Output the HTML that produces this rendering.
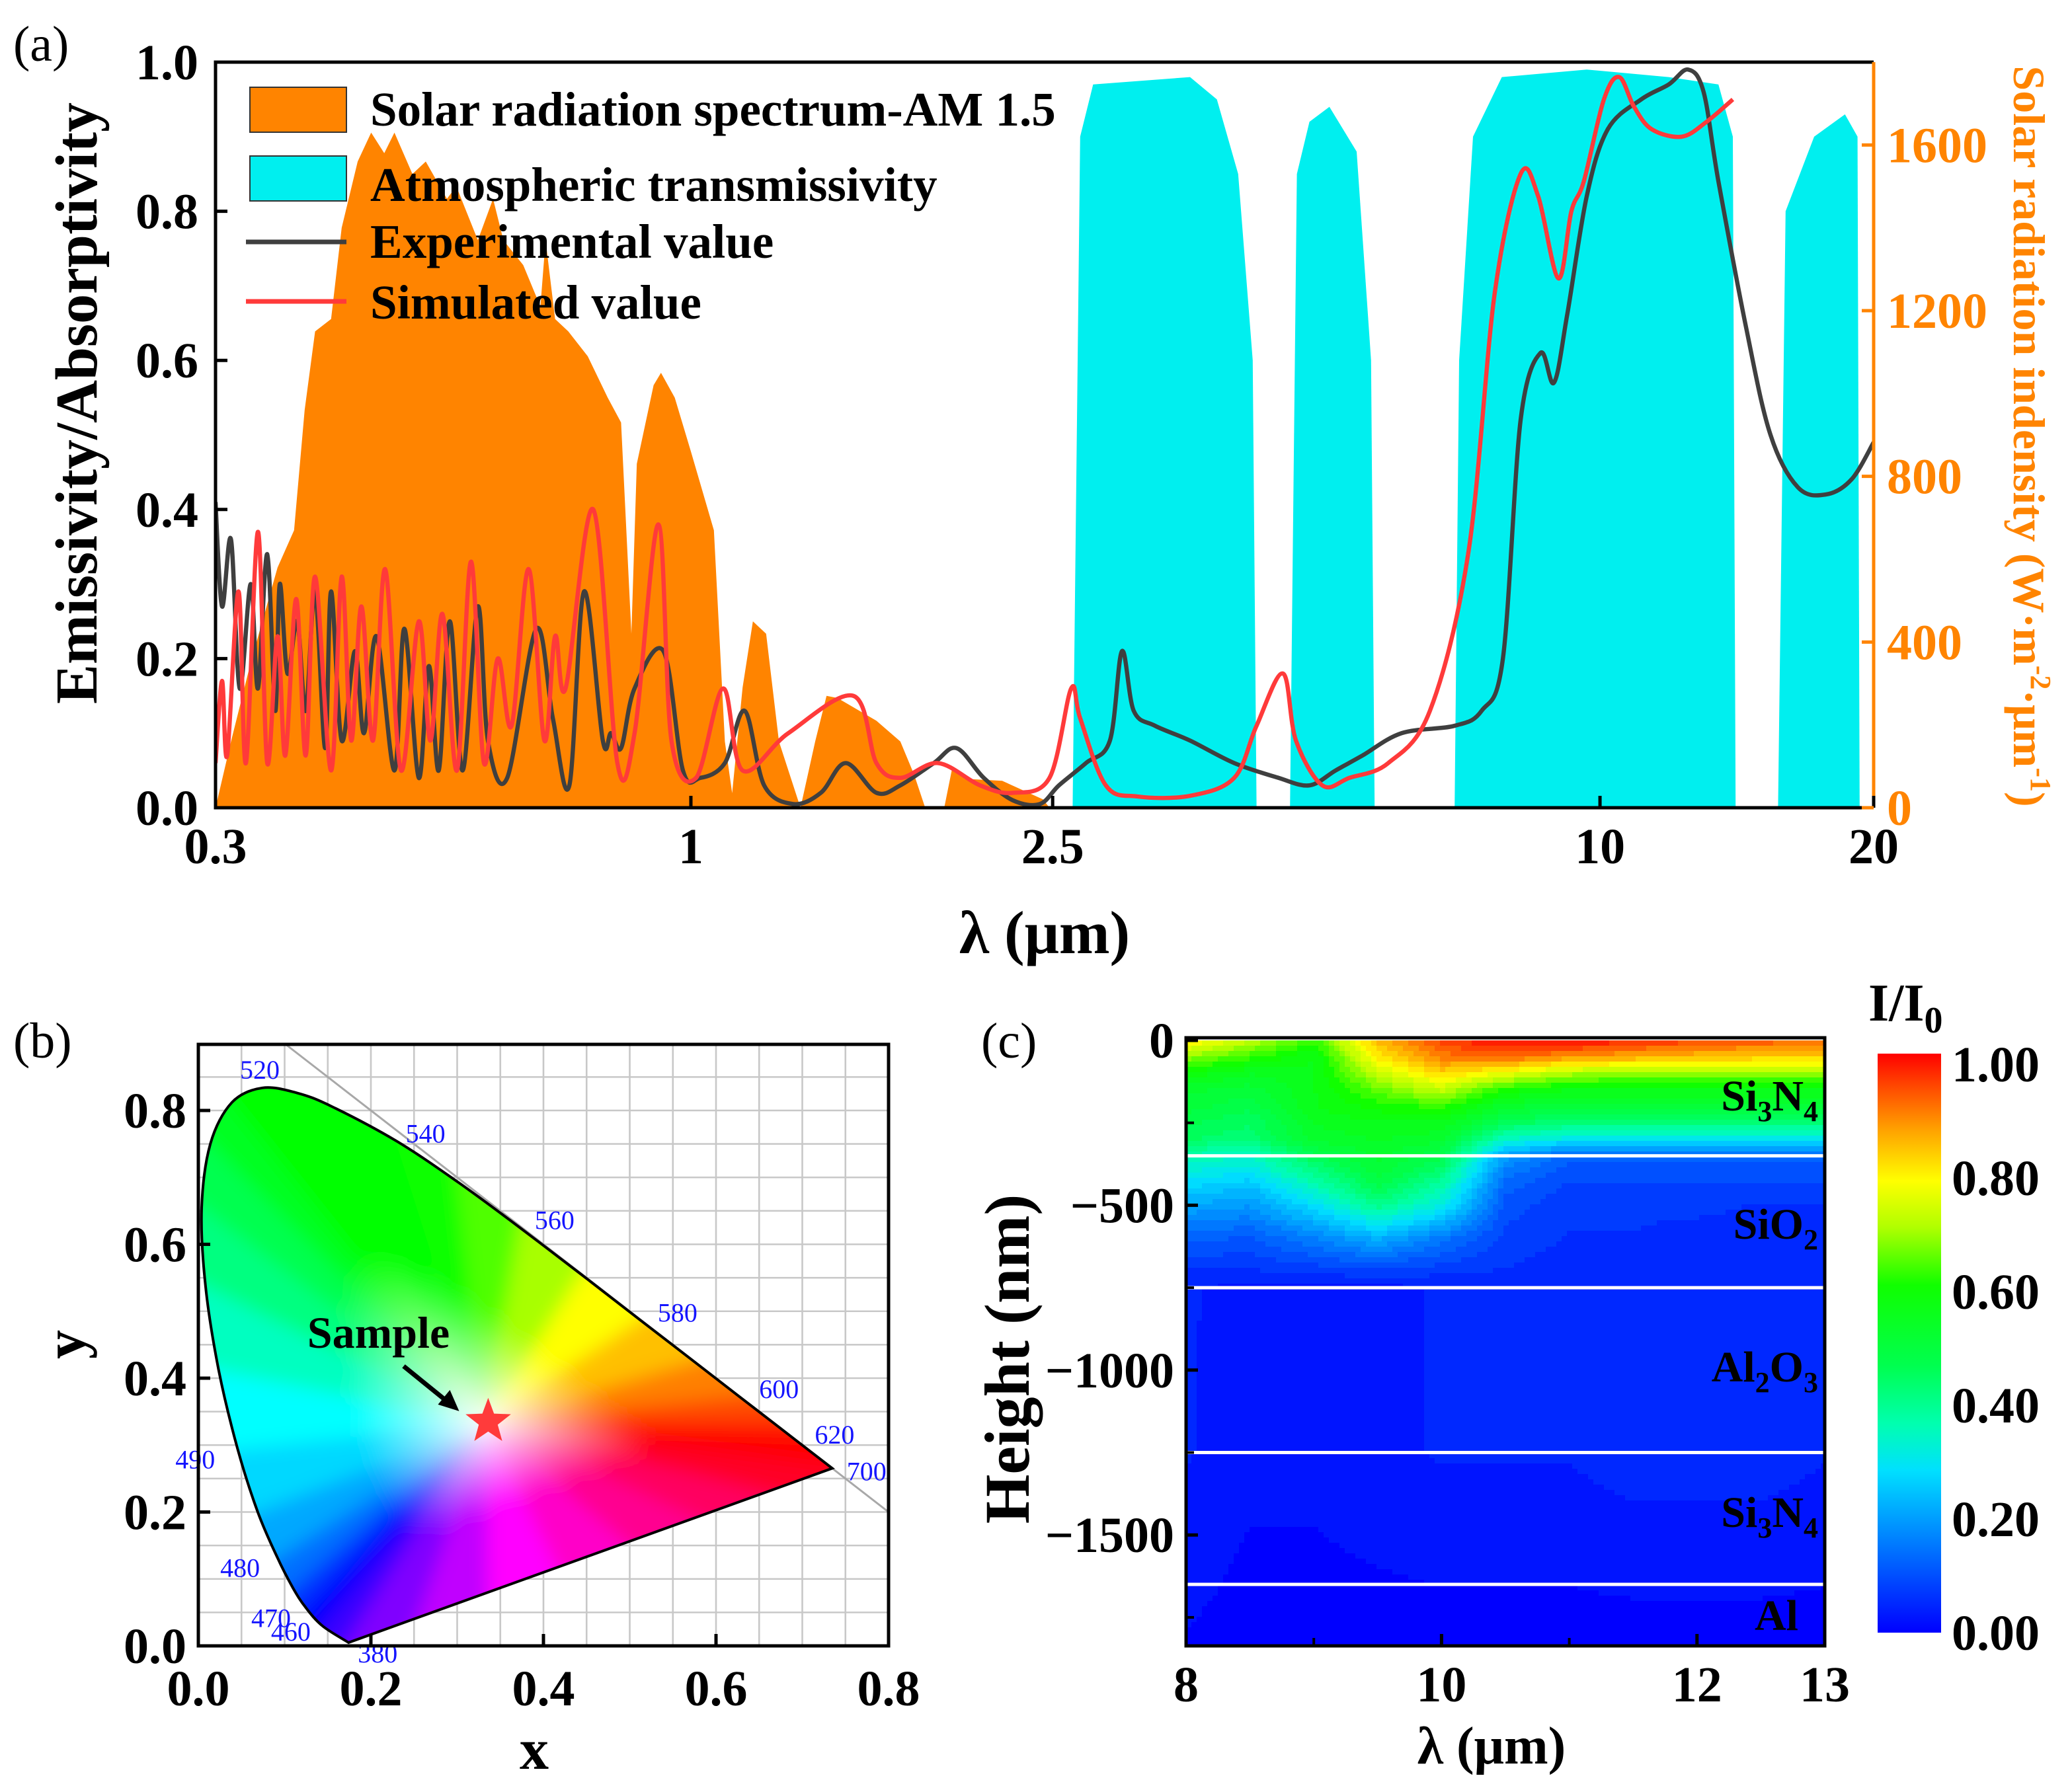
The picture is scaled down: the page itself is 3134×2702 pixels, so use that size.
<!DOCTYPE html>
<html><head><meta charset="utf-8">
<style>
html,body{margin:0;padding:0;background:#fff;}
svg{display:block;}
text{font-family:"Liberation Serif",serif;}
</style></head>
<body>
<svg id="fig" xmlns="http://www.w3.org/2000/svg" width="3134" height="2702" viewBox="0 0 1567 1351">
<defs>
<clipPath id="clipA"><rect x="163" y="47" width="1254" height="564"/></clipPath>
<clipPath id="clipC"><rect x="897" y="786" width="483" height="459"/></clipPath>
<clipPath id="clipLocus"><path id="locusClipPath" d=""/></clipPath>
<filter id="blurSect" x="-20%" y="-20%" width="140%" height="140%"><feGaussianBlur stdDeviation="7"/></filter>
<linearGradient id="cbGrad" x1="0" y1="1" x2="0" y2="0">
<stop offset="0" stop-color="#0000ff"/><stop offset="0.08" stop-color="#0040ff"/><stop offset="0.18" stop-color="#0090ff"/>
<stop offset="0.28" stop-color="#00e0ff"/><stop offset="0.36" stop-color="#00ffb0"/><stop offset="0.46" stop-color="#00ff50"/>
<stop offset="0.6" stop-color="#10ff00"/><stop offset="0.7" stop-color="#b0ff00"/><stop offset="0.78" stop-color="#ffff00"/>
<stop offset="0.87" stop-color="#ffa000"/><stop offset="0.95" stop-color="#ff4000"/><stop offset="1" stop-color="#ff0000"/>
</linearGradient>
</defs>

<text x="10" y="46" font-size="38">(a)</text>
<text x="10" y="800" font-size="38">(b)</text>
<text x="742" y="800" font-size="38">(c)</text>

<g id="panelA">
  <g id="aMarks" clip-path="url(#clipA)"></g>
  <g id="aAxes"></g>
</g>

<g>
<text x="790" y="721" font-size="46" font-weight="bold" text-anchor="middle">λ (μm)</text>
<text transform="translate(73,305) rotate(-90)" font-size="45" font-weight="bold" text-anchor="middle">Emissivity/Absorptivity</text>
<text transform="translate(1523,330) rotate(90)" font-size="34" font-weight="bold" text-anchor="middle" fill="#ff8400">Solar radiation indensity (W·m<tspan font-size="22" dy="-13">-2</tspan><tspan dy="13">·μm</tspan><tspan font-size="22" dy="-13">-1</tspan><tspan dy="13">)</tspan></text>
</g>
<g>
<rect x="189" y="66" width="73" height="34" fill="#ff8400" stroke="#333" stroke-width="1"/>
<text x="280" y="95" font-size="36.5" font-weight="bold">Solar radiation spectrum-AM 1.5</text>
<rect x="189" y="118" width="73" height="34" fill="#00efef" stroke="#333" stroke-width="1"/>
<text x="280" y="152" font-size="36.5" font-weight="bold">Atmospheric transmissivity</text>
<line x1="186" y1="183" x2="262" y2="183" stroke="#3f3f3f" stroke-width="3.5"/>
<text x="280" y="195" font-size="36.5" font-weight="bold">Experimental value</text>
<line x1="186" y1="228" x2="262" y2="228" stroke="#ff3a3a" stroke-width="3.5"/>
<text x="280" y="241" font-size="36.5" font-weight="bold">Simulated value</text>
</g>

<g id="panelB"></g>
<g id="panelC"></g>

<g>
<text x="1128" y="1334" font-size="40" font-weight="bold" text-anchor="middle">λ (μm)</text>
<text transform="translate(778,1028) rotate(-90)" font-size="48" font-weight="bold" text-anchor="middle">Height (nm)</text>
<text x="1413" y="772" font-size="40" font-weight="bold">I/I<tspan font-size="28" dy="9">0</tspan></text>
<text x="1375" y="840" font-size="33" font-weight="bold" text-anchor="end">Si<tspan font-size="22" dy="8">3</tspan><tspan dy="-8">N</tspan><tspan font-size="22" dy="8">4</tspan></text>
<text x="1375" y="937" font-size="33" font-weight="bold" text-anchor="end">SiO<tspan font-size="22" dy="8">2</tspan></text>
<text x="1375" y="1045" font-size="33" font-weight="bold" text-anchor="end">Al<tspan font-size="22" dy="8">2</tspan><tspan dy="-8">O</tspan><tspan font-size="22" dy="8">3</tspan></text>
<text x="1375" y="1155" font-size="33" font-weight="bold" text-anchor="end">Si<tspan font-size="22" dy="8">3</tspan><tspan dy="-8">N</tspan><tspan font-size="22" dy="8">4</tspan></text>
<text x="1360" y="1233" font-size="33" font-weight="bold" text-anchor="end">Al</text>
</g>
</svg>

<script>
// ---------- Panel (a) data ----------
const solarLam = [0.300,0.312,0.328,0.351,0.366,0.376,0.386,0.402,0.413,0.430,0.445,0.460,0.472,0.494,0.511,0.539,0.552,0.583,0.606,0.622,0.654,0.683,0.692,0.709,0.733,0.770,0.810,0.838,0.860,0.872,0.910,0.927,0.960,1.000,1.060,1.090,1.110,1.140,1.170,1.210,1.250,1.320,1.370,1.410,1.450,1.600,1.700,1.760,1.810,1.900,1.940,2.000,2.200,2.440,2.480];
const solarVal = [0,160,350,580,670,960,1150,1180,1400,1560,1630,1580,1630,1530,1560,1470,1500,1370,1470,1370,1310,1210,1370,1180,1150,1090,990,930,420,830,1020,1050,990,860,670,160,35,290,450,420,160,0,160,270,265,210,160,80,0,0,100,70,65,20,0];

const atmBand1Lam = [2.63,2.68,2.77,3.54,3.79,4.00,4.15,4.19];
const atmBand1Val = [0,0.9,0.97,0.98,0.95,0.85,0.6,0];
const atmBand2Lam = [4.56,4.64,4.79,5.04,5.40,5.60,5.65];
const atmBand2Val = [0,0.85,0.92,0.94,0.88,0.6,0];
const atmBand3Lam = [6.92,7.00,7.25,7.80,9.67,11.9,13.5,14.0,14.1];
const atmBand3Val = [0,0.6,0.9,0.98,0.99,0.98,0.97,0.9,0];
const atmBand4Lam = [15.7,16.0,17.2,18.6,19.2,19.3];
const atmBand4Val = [0,0.8,0.9,0.93,0.9,0];

const expLam = [0.300,0.305,0.312,0.319,0.328,0.334,0.342,0.349,0.353,0.360,0.369,0.377,0.386,0.396,0.402,0.413,0.427,0.437,0.451,0.472,0.484,0.502,0.515,0.528,0.543,0.561,0.583,0.598,0.628,0.676,0.705,0.735,0.763,0.800,0.817,0.838,0.867,0.933,0.980,1.024,1.090,1.146,1.204,1.296,1.390,1.480,1.600,1.700,1.850,1.960,2.100,2.260,2.420,2.540,2.720,2.890,2.980,3.070,3.240,3.540,3.960,4.430,4.790,5.120,5.480,6.050,6.920,7.410,7.820,8.180,8.600,8.900,9.200,9.670,10.2,11.1,11.9,12.5,13.0,13.5,14.5,15.4,16.5,17.7,18.9,20.0];
const expVal = [0.41,0.27,0.36,0.16,0.30,0.16,0.34,0.13,0.30,0.18,0.25,0.13,0.29,0.08,0.29,0.09,0.21,0.10,0.23,0.05,0.24,0.04,0.19,0.05,0.25,0.05,0.27,0.09,0.04,0.24,0.12,0.03,0.29,0.09,0.10,0.08,0.16,0.21,0.05,0.04,0.06,0.13,0.03,0.005,0.02,0.06,0.02,0.03,0.06,0.08,0.04,0.01,0.005,0.03,0.06,0.09,0.21,0.13,0.11,0.09,0.06,0.04,0.03,0.05,0.07,0.10,0.11,0.13,0.20,0.52,0.61,0.57,0.66,0.82,0.91,0.95,0.97,0.99,0.96,0.84,0.64,0.50,0.43,0.42,0.44,0.49];

const simLam = [0.300,0.305,0.309,0.318,0.324,0.334,0.342,0.351,0.358,0.368,0.377,0.386,0.402,0.413,0.423,0.434,0.447,0.461,0.480,0.502,0.517,0.533,0.553,0.573,0.592,0.613,0.635,0.663,0.690,0.709,0.728,0.781,0.830,0.867,0.921,0.952,1.013,1.085,1.140,1.280,1.510,1.600,1.700,1.870,2.080,2.260,2.480,2.620,2.680,2.860,3.100,3.540,3.960,4.190,4.480,4.630,4.950,5.300,5.850,6.500,7.160,7.660,8.180,8.550,9.000,9.300,9.600,10.1,10.5,10.9,11.4,12.3,13.1,14.0];
const simVal = [0.06,0.17,0.07,0.29,0.06,0.37,0.06,0.23,0.07,0.28,0.07,0.31,0.05,0.31,0.09,0.27,0.09,0.32,0.05,0.25,0.09,0.26,0.05,0.33,0.06,0.20,0.11,0.32,0.09,0.23,0.16,0.40,0.06,0.10,0.38,0.09,0.04,0.16,0.05,0.10,0.15,0.06,0.04,0.06,0.03,0.02,0.04,0.16,0.12,0.03,0.015,0.016,0.04,0.11,0.18,0.09,0.03,0.04,0.06,0.13,0.34,0.69,0.85,0.82,0.71,0.80,0.84,0.95,0.98,0.94,0.91,0.90,0.92,0.95];

const aXTicks = [0.3,1,2.5,10,20];
const aXTickLabels = ["0.3","1","2.5","10","20"];
const aYTicks = [0,0.2,0.4,0.6,0.8,1.0];
const aYTickLabels = ["0.0","0.2","0.4","0.6","0.8","1.0"];
const aRTicks = [0,400,800,1200,1600];
const aRTickLabels = ["0","400","800","1200","1600"];

// ---------- Panel (b) data ----------
const locusNm = [380,460,470,475,480,485,490,495,500,505,510,515,520,525,530,540,550,560,570,580,590,600,610,620,700];
const locusX = [0.1741,0.1440,0.1241,0.1096,0.0913,0.0687,0.0454,0.0235,0.0082,0.0039,0.0139,0.0389,0.0743,0.1142,0.1547,0.2296,0.3016,0.3731,0.4441,0.5125,0.5752,0.6270,0.6658,0.6915,0.7347];
const locusY = [0.0050,0.0297,0.0578,0.0868,0.1327,0.2007,0.2950,0.4127,0.5384,0.6548,0.7502,0.8120,0.8338,0.8262,0.8059,0.7543,0.6923,0.6245,0.5547,0.4866,0.4242,0.3725,0.3340,0.3083,0.2653];
const locusLabelNm = [520,540,560,580,600,620,700,490,480,470,460,380];
const sampleX = [0.336];
const sampleY = [0.335];
const bTicks = [0,0.2,0.4,0.6,0.8];
const bTickLabels = ["0.0","0.2","0.4","0.6","0.8"];

// ---------- Panel (c) data ----------
const cLam = [8,8.5,9,9.5,10,10.5,11,11.5,12,12.5,13];
const cDepth = [0,-50,-100,-150,-200,-250,-300,-350,-400,-450,-500,-600,-700,-750,-1250,-1840];
const cIntensity = [
 [0.80,0.72,0.62,0.85,0.95,1.00,1.00,0.97,0.95,0.93,0.92],
 [0.68,0.62,0.56,0.80,0.90,0.92,0.88,0.86,0.84,0.83,0.83],
 [0.58,0.54,0.56,0.72,0.82,0.76,0.70,0.68,0.68,0.68,0.68],
 [0.52,0.50,0.56,0.65,0.72,0.60,0.56,0.56,0.56,0.56,0.56],
 [0.50,0.47,0.56,0.60,0.62,0.52,0.50,0.50,0.50,0.50,0.50],
 [0.47,0.44,0.54,0.56,0.56,0.45,0.42,0.42,0.42,0.42,0.42],
 [0.44,0.42,0.52,0.54,0.52,0.34,0.30,0.30,0.30,0.30,0.30],
 [0.36,0.34,0.46,0.52,0.47,0.20,0.12,0.12,0.12,0.12,0.12],
 [0.31,0.29,0.40,0.50,0.42,0.15,0.10,0.10,0.10,0.10,0.10],
 [0.26,0.23,0.34,0.46,0.36,0.12,0.08,0.08,0.08,0.08,0.08],
 [0.21,0.19,0.28,0.40,0.31,0.10,0.07,0.07,0.07,0.06,0.06],
 [0.12,0.11,0.16,0.22,0.15,0.08,0.06,0.06,0.05,0.05,0.05],
 [0.06,0.06,0.07,0.08,0.07,0.06,0.05,0.05,0.05,0.04,0.04],
 [0.04,0.03,0.03,0.03,0.04,0.05,0.05,0.05,0.05,0.05,0.05],
 [0.04,0.02,0.02,0.03,0.04,0.04,0.04,0.05,0.05,0.05,0.04],
 [0.01,0.00,0.00,0.00,0.00,0.00,0.00,0.00,0.00,0.00,0.00]
];
const layerBounds = [-350,-750,-1250,-1650];
const cXTicks = [8,10,12,13];
const cYTicks = [0,-500,-1000,-1500];
const cYTickLabels = ["0","\u2212500","\u22121000","\u22121500"];
const cbTicks = [1.0,0.8,0.6,0.4,0.2,0.0];
const cbTickLabels = ["1.00","0.80","0.60","0.40","0.20","0.00"];

const NS = "http://www.w3.org/2000/svg";
const TICKFONT = 38;
function mk(parent, tag, attrs, txt){
  const e = document.createElementNS(NS, tag);
  for (const k in attrs) e.setAttribute(k, attrs[k]);
  if (txt !== undefined) e.textContent = txt;
  parent.appendChild(e);
  return e;
}
function smoothPath(pts){
  let d = 'M'+pts[0][0].toFixed(1)+' '+pts[0][1].toFixed(1);
  for (let i=0;i<pts.length-1;i++){
    const p0=pts[Math.max(0,i-1)], p1=pts[i], p2=pts[i+1], p3=pts[Math.min(pts.length-1,i+2)];
    const c1x=p1[0]+(p2[0]-p0[0])/6, c1y=p1[1]+(p2[1]-p0[1])/6;
    const c2x=p2[0]-(p3[0]-p1[0])/6, c2y=p2[1]-(p3[1]-p1[1])/6;
    d += ' C'+c1x.toFixed(1)+' '+c1y.toFixed(1)+' '+c2x.toFixed(1)+' '+c2y.toFixed(1)+' '+p2[0].toFixed(1)+' '+p2[1].toFixed(1);
  }
  return d;
}

// ================= Panel A =================
const AX0=163, AX1=1417, AY0=47, AY1=611;
const LMIN=Math.log10(0.3), LMAX=Math.log10(20);
function xA(l){ return AX0 + (Math.log10(l)-LMIN)/(LMAX-LMIN)*(AX1-AX0); }
function yA(v){ return AY1 - v*(AY1-AY0); }
function yR(w){ return AY1 - w/1800*(AY1-AY0); }

const aMarks = document.getElementById('aMarks');
const aAxes = document.getElementById('aAxes');

{
  let pts = solarLam.map((l,i)=>xA(l).toFixed(1)+','+yR(solarVal[i]).toFixed(1));
  pts.push(xA(solarLam[solarLam.length-1]).toFixed(1)+','+AY1, xA(solarLam[0]).toFixed(1)+','+AY1);
  const p = mk(aMarks,'polygon',{points:pts.join(' '),fill:'#ff8400'});
  
  
}
[[atmBand1Lam,atmBand1Val],[atmBand2Lam,atmBand2Val],[atmBand3Lam,atmBand3Val],[atmBand4Lam,atmBand4Val]].forEach((b,bi)=>{
  let pts = b[0].map((l,i)=>xA(l).toFixed(1)+','+yA(b[1][i]).toFixed(1));
  pts.push(xA(b[0][b[0].length-1]).toFixed(1)+','+AY1, xA(b[0][0]).toFixed(1)+','+AY1);
  const p = mk(aMarks,'polygon',{points:pts.join(' '),fill:'#00efef'});
  
  
});
{
  const d = smoothPath(expLam.map((l,i)=>[xA(l),yA(expVal[i])]));
  const p = mk(aMarks,'path',{d:d,fill:'none',stroke:'#3f3f3f','stroke-width':3.2,'stroke-linejoin':'round'});
  
  
}
{
  const d = smoothPath(simLam.map((l,i)=>[xA(l),yA(simVal[i])]));
  const p = mk(aMarks,'path',{d:d,fill:'none',stroke:'#ff3a3a','stroke-width':3.2,'stroke-linejoin':'round'});
  
  
}
mk(aAxes,'path',{d:`M${AX1} ${AY0} L${AX0} ${AY0} L${AX0} ${AY1} L${AX1} ${AY1}`,fill:'none',stroke:'#000','stroke-width':2.5});
mk(aAxes,'line',{x1:AX1,y1:AY0,x2:AX1,y2:AY1,stroke:'#ff8400','stroke-width':2.5});
aXTicks.forEach((t,i)=>{
  const x=xA(t);
  mk(aAxes,'line',{x1:x,y1:AY1,x2:x,y2:AY1-9,stroke:'#000','stroke-width':2.5});
  const tx = mk(aAxes,'text',{x:x,y:653,'font-size':TICKFONT,'font-weight':'bold','text-anchor':'middle'},aXTickLabels[i]);
  
  
});
aYTicks.forEach((t,i)=>{
  const y=yA(t);
  mk(aAxes,'line',{x1:AX0,y1:y,x2:AX0+9,y2:y,stroke:'#000','stroke-width':2.5});
  const tx = mk(aAxes,'text',{x:150,y:y+13,'font-size':TICKFONT,'font-weight':'bold','text-anchor':'end'},aYTickLabels[i]);
  
  
});
aRTicks.forEach((t,i)=>{
  const y=yR(t);
  mk(aAxes,'line',{x1:AX1,y1:y,x2:AX1-9,y2:y,stroke:'#ff8400','stroke-width':2.5});
  const tx = mk(aAxes,'text',{x:1427,y:y+13,'font-size':TICKFONT,'font-weight':'bold',fill:'#ff8400'},aRTickLabels[i]);
  
  
});

// ================= Panel B =================
const BX0=150, BX1=672, BY0=790, BY1=1245;
function xB(v){ return BX0 + v*652.5; }
function yB(v){ return BY1 - v*506.25; }
const pB = document.getElementById('panelB');
for (let g=0; g<=0.8001; g+=0.05){
  mk(pB,'line',{x1:xB(g),y1:BY0,x2:xB(g),y2:BY1,stroke:'#c8c8c8','stroke-width':1.3});
}
for (let g=0; g<=0.9001; g+=0.05){
  if (yB(g) >= BY0) mk(pB,'line',{x1:BX0,y1:yB(g),x2:BX1,y2:yB(g),stroke:'#c8c8c8','stroke-width':1.3});
}
mk(pB,'line',{x1:xB(0.1),y1:yB(0.9),x2:xB(0.8),y2:yB(0.2),stroke:'#a8a8a8','stroke-width':1.5});
const locScreen = locusX.map((x,i)=>[xB(x),yB(locusY[i])]);
const locD = smoothPath(locScreen) + ' Z';
document.getElementById('locusClipPath').setAttribute('d', locD);
const cieG = mk(pB,'g',{'clip-path':'url(#clipLocus)'});


const cieInner = mk(cieG,'g',{filter:'url(#blurSect)'});
const locColors = ['#3a00ff','#0000ff','#0030ff','#0070ff','#00a8ff','#00d8ff','#00ffff','#00ffc0','#00ff80','#00ff50','#00ff20','#00ff00','#00ff00','#00ff00','#00ff00','#10ff00','#50ff00','#a8ff00','#ffff00','#ffc000','#ff8000','#ff4800','#ff1800','#ff0000','#ff0028'];
const defs = document.querySelector('defs');
const W = [xB(0.333), yB(0.333)];
let segs = [];
for (let i=0;i<locScreen.length-1;i++) segs.push([locScreen[i],locScreen[i+1],locColors[i],locColors[i+1]]);
const purpleCols = ['#ff0028','#ff0060','#ff0090','#ff00c8','#ff00ff','#c000ff','#8000ff','#3a00ff'];
const pA = locScreen[locScreen.length-1], pZ = locScreen[0];
for (let k=0;k<purpleCols.length-1;k++){
  const t0=k/(purpleCols.length-1), t1=(k+1)/(purpleCols.length-1);
  segs.push([[pA[0]+(pZ[0]-pA[0])*t0,pA[1]+(pZ[1]-pA[1])*t0],[pA[0]+(pZ[0]-pA[0])*t1,pA[1]+(pZ[1]-pA[1])*t1],purpleCols[k],purpleCols[k+1]]);
}
segs.forEach((s,si)=>{
  const ext = p => [W[0]+(p[0]-W[0])*1.3, W[1]+(p[1]-W[1])*1.3];
  const a=ext(s[0]), b=ext(s[1]);
  const mx=(a[0]+b[0])/2, my=(a[1]+b[1])/2;
  const gid='cieg'+si;
  const g = mk(defs,'linearGradient',{id:gid,gradientUnits:'userSpaceOnUse',x1:mx,y1:my,x2:W[0],y2:W[1]});
  mk(g,'stop',{offset:0,'stop-color':s[2]});
  mk(g,'stop',{offset:0.6,'stop-color':s[2]});
  mk(g,'stop',{offset:1,'stop-color':'#ffffff'});
  const tri = mk(cieInner,'polygon',{points:`${W[0]},${W[1]} ${a[0]},${a[1]} ${b[0]},${b[1]}`,fill:`url(#${gid})`,stroke:`url(#${gid})`,'stroke-width':1.2});
  
  
});
const locus = mk(pB,'path',{d:locD,fill:'none',stroke:'#000','stroke-width':2});


const lblOff = {520:[-2,-14],540:[22,-6],560:[26,-6],580:[28,-6],600:[30,-6],620:[30,-4],700:[26,2],490:[-32,8],480:[-28,8],470:[-26,8],460:[-24,4],380:[22,8]};
locusLabelNm.forEach(nm=>{
  const i = locusNm.indexOf(nm);
  const o = lblOff[nm];
  const t = mk(pB,'text',{x:xB(locusX[i])+o[0],y:yB(locusY[i])+o[1]+7,'font-size':20,fill:'#1515ff','text-anchor':'middle'},String(nm));
  
  
});
{
  const cx=xB(sampleX[0]), cy=yB(sampleY[0]), R=18, r=7.5;
  let pts=[];
  for(let k=0;k<10;k++){const a=-Math.PI/2+k*Math.PI/5;const rr=k%2?r:R;pts.push((cx+rr*Math.cos(a)).toFixed(1)+','+(cy+rr*Math.sin(a)).toFixed(1));}
  const s = mk(pB,'polygon',{points:pts.join(' '),fill:'#ff3b3b'});
  
  
  const ar = mk(pB,'line',{x1:cx-64,y1:cy-42,x2:cx-27,y2:cy-12,stroke:'#000','stroke-width':3.5});
  
  
  mk(pB,'polygon',{points:`${cx-22},${cy-8} ${cx-38},${cy-13} ${cx-29},${cy-24}`,fill:'#000'});
  const st = mk(pB,'text',{x:cx-83,y:cy-56,'font-size':34,'font-weight':'bold','text-anchor':'middle'},'Sample');
  
  
}
mk(pB,'rect',{x:BX0,y:BY0,width:BX1-BX0,height:BY1-BY0,fill:'none',stroke:'#000','stroke-width':2.5});
bTicks.forEach((t,i)=>{
  mk(pB,'line',{x1:xB(t),y1:BY1,x2:xB(t),y2:BY1-9,stroke:'#000','stroke-width':2.5});
  mk(pB,'line',{x1:BX0,y1:yB(t),x2:BX0+9,y2:yB(t),stroke:'#000','stroke-width':2.5});
  const tx = mk(pB,'text',{x:xB(t),y:1290,'font-size':TICKFONT,'font-weight':'bold','text-anchor':'middle'},bTickLabels[i]);
  
  
  const ty = mk(pB,'text',{x:141,y:yB(t)+13,'font-size':TICKFONT,'font-weight':'bold','text-anchor':'end'},bTickLabels[i]);
  
  
});
{
  const xt = mk(pB,'text',{x:404,y:1338,'font-size':44,'font-weight':'bold','text-anchor':'middle'},'x');
  
  
  const yt = mk(pB,'text',{transform:'translate(64,1017) rotate(-90)','font-size':44,'font-weight':'bold','text-anchor':'middle'},'y');
  
  
}

// ================= Panel C =================
const CX0=897, CX1=1380, CY0=787, CY1=1245;
function xC(l){ return CX0 + (l-8)/5*(CX1-CX0); }
function yC(d){ return CY0 - d*0.2494; }
const pC = document.getElementById('panelC');
const cStops = [[0,[0,0,255]],[0.08,[0,64,255]],[0.18,[0,144,255]],[0.28,[0,224,255]],[0.36,[0,255,176]],[0.46,[0,255,80]],[0.6,[16,255,0]],[0.7,[176,255,0]],[0.78,[255,255,0]],[0.87,[255,160,0]],[0.95,[255,64,0]],[1,[255,0,0]]];
function cmap(v){
  v=Math.max(0,Math.min(1,v));
  for(let i=1;i<cStops.length;i++){
    if(v<=cStops[i][0]){
      const a=cStops[i-1],b=cStops[i],t=(v-a[0])/(b[0]-a[0]);
      return 'rgb('+a[1].map((c,k)=>Math.round(c+(b[1][k]-c)*t)).join(',')+')';
    }
  }
  return 'rgb(255,0,0)';
}
function interp(lam, dep){
  let ci=0; while(ci<cLam.length-2 && lam>cLam[ci+1]) ci++;
  let ri=0; while(ri<cDepth.length-2 && dep<cDepth[ri+1]) ri++;
  const tx=Math.max(0,Math.min(1,(lam-cLam[ci])/(cLam[ci+1]-cLam[ci])));
  const ty=Math.max(0,Math.min(1,(dep-cDepth[ri])/(cDepth[ri+1]-cDepth[ri])));
  const a=cIntensity[ri][ci],b=cIntensity[ri][ci+1],c=cIntensity[ri+1][ci],d=cIntensity[ri+1][ci+1];
  return (a*(1-tx)+b*tx)*(1-ty)+(c*(1-tx)+d*tx)*ty;
}
const heat = mk(pC,'g',{'clip-path':'url(#clipC)'});


const STEP=4;
for(let py=CY0; py<CY1; py+=STEP){
  const dep = (CY0-(py+STEP/2))/0.2494;
  for(let px=CX0; px<CX1; px+=STEP){
    const lam = 8 + ((px+STEP/2)-CX0)/(CX1-CX0)*5;
    const v = Math.round(interp(lam,dep)*40)/40;
    const r = mk(heat,'rect',{x:px,y:py,width:STEP+0.6,height:STEP+0.6,fill:cmap(v)});
    
    
  }
}
layerBounds.forEach(b=>{
  const l = mk(pC,'line',{x1:CX0,y1:yC(b),x2:CX1,y2:yC(b),stroke:'#ffffff','stroke-width':2.5});
  
  
});
mk(pC,'rect',{x:CX0,y:CY0-2,width:CX1-CX0,height:CY1-CY0+2,fill:'none',stroke:'#000','stroke-width':2.5});
cXTicks.forEach(t=>{
  mk(pC,'line',{x1:xC(t),y1:CY1,x2:xC(t),y2:CY1-9,stroke:'#000','stroke-width':2.5});
  const tx = mk(pC,'text',{x:xC(t),y:1287,'font-size':TICKFONT,'font-weight':'bold','text-anchor':'middle'},String(t));
  
  
});
[9,11].forEach(t=>{ mk(pC,'line',{x1:xC(t),y1:CY1,x2:xC(t),y2:CY1-6,stroke:'#000','stroke-width':2}); });
cYTicks.forEach((t,i)=>{
  mk(pC,'line',{x1:CX0,y1:yC(t),x2:CX0+9,y2:yC(t),stroke:'#000','stroke-width':2.5});
  const ty = mk(pC,'text',{x:888,y:yC(t)+13,'font-size':TICKFONT,'font-weight':'bold','text-anchor':'end'},cYTickLabels[i]);
  
  
});
[-250,-750,-1250,-1750].forEach(t=>{ mk(pC,'line',{x1:CX0,y1:yC(t),x2:CX0+6,y2:yC(t),stroke:'#000','stroke-width':2}); });
{
  const cb = mk(pC,'rect',{x:1420,y:797,width:48,height:438,fill:'url(#cbGrad)'});
  
  
  cbTicks.forEach((t,i)=>{
    const y = 1235 - t*430;
    const tx = mk(pC,'text',{x:1476,y:y+13,'font-size':TICKFONT,'font-weight':'bold'},cbTickLabels[i]);
    
    
  });
}
</script>
</body></html>
